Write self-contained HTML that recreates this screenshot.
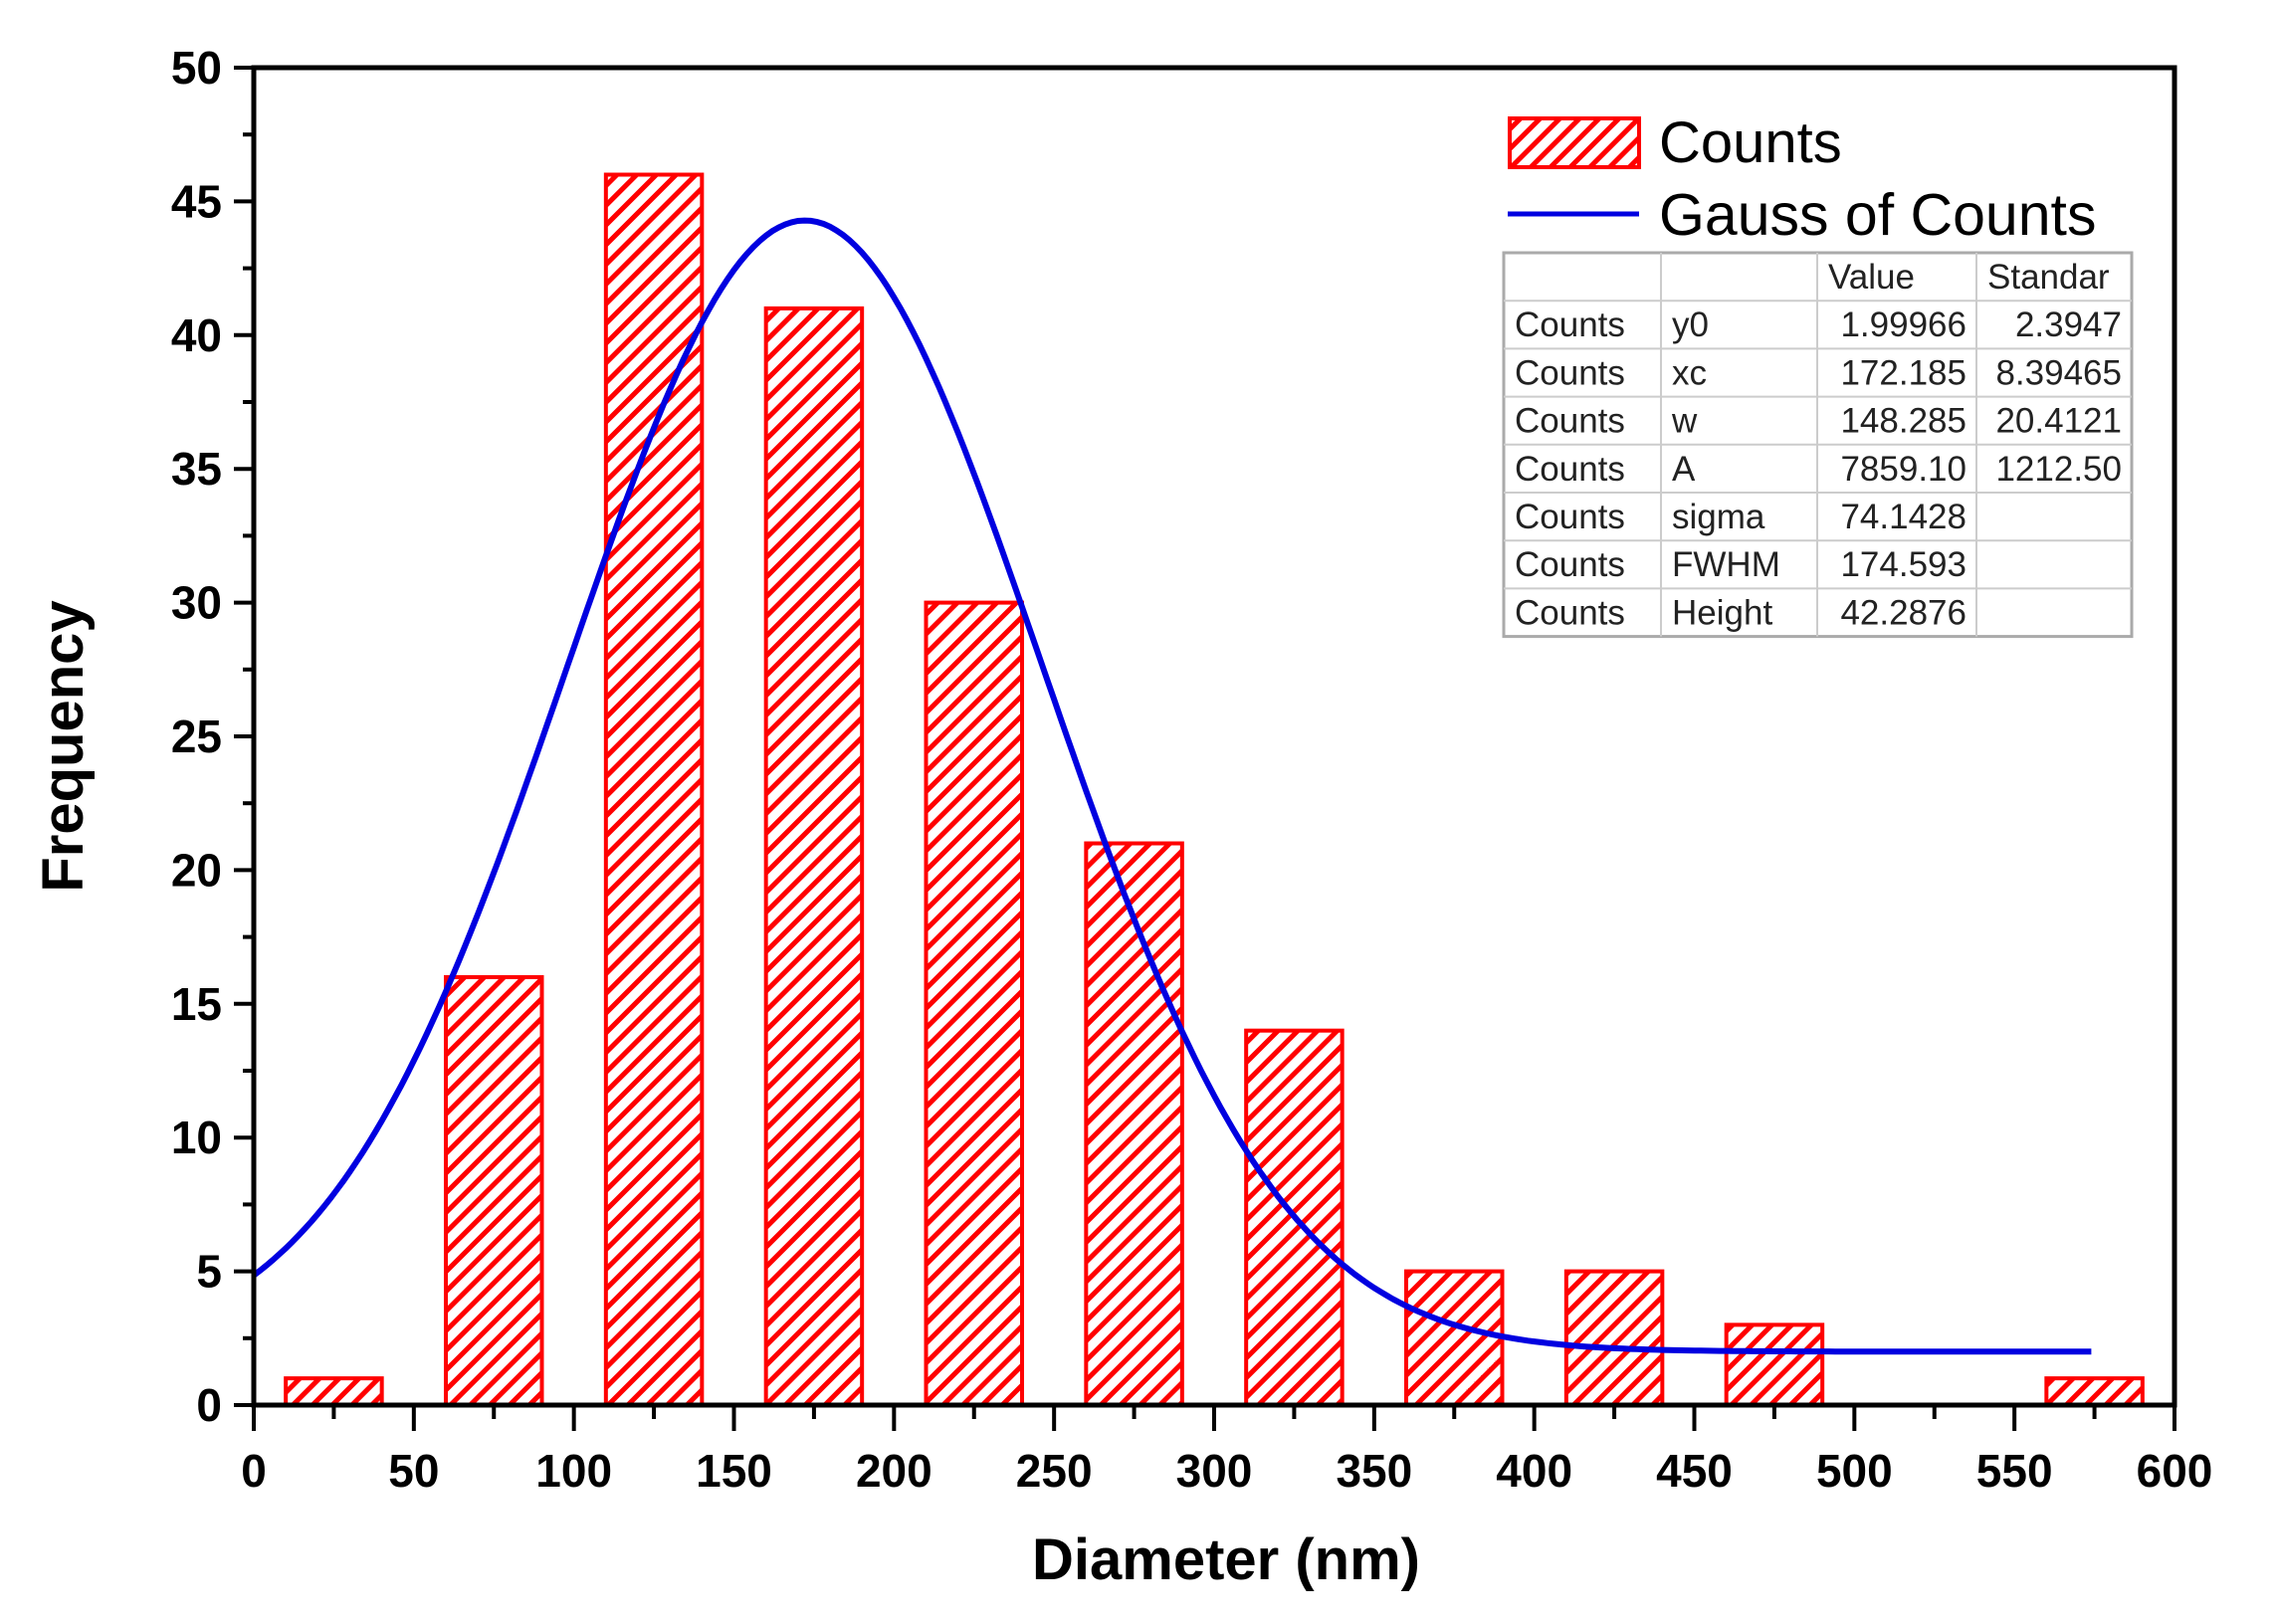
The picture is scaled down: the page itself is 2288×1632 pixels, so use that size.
<!DOCTYPE html>
<html><head><meta charset="utf-8"><style>
html,body{margin:0;padding:0;background:#fff;}
svg{display:block;font-family:"Liberation Sans",Arial,sans-serif;}
</style></head><body>
<svg id="chart" width="2288" height="1632" viewBox="0 0 2288 1632" xmlns="http://www.w3.org/2000/svg">
<defs>
<pattern id="hatch" patternUnits="userSpaceOnUse" width="14" height="14" patternTransform="rotate(45)">
<rect width="14" height="14" fill="#fff"/>
<rect x="0" y="0" width="5" height="14" fill="#f00"/>
</pattern>
</defs>
<g id="bars"></g>
<g id="curve"></g>
<g id="axes"></g>
<text transform="translate(83,750) rotate(-90)" text-anchor="middle" font-size="58" font-weight="bold">Frequency</text>
<text x="1232" y="1587" text-anchor="middle" font-size="58" font-weight="bold">Diameter (nm)</text>
<g>
<rect x="1517" y="119" width="130" height="49" fill="url(#hatch)" stroke="#f00" stroke-width="4"/>
<text x="1667" y="163" font-size="58">Counts</text>
<line x1="1515" y1="215" x2="1647" y2="215" stroke="#0000e0" stroke-width="5"/>
<text x="1667" y="236" font-size="59">Gauss of Counts</text>
</g>
<g id="table"></g>
</svg>
<script>
const categories = [25, 75, 125, 175, 225, 275, 325, 375, 425, 475, 525, 575];
const counts = [1, 16, 46, 41, 30, 21, 14, 5, 5, 3, 0, 1];
const binWidth = 30;
const yTicks = [0, 5, 10, 15, 20, 25, 30, 35, 40, 45, 50];
const xTicks = [0, 50, 100, 150, 200, 250, 300, 350, 400, 450, 500, 550, 600];
const fitParams = [1.99966, 172.185, 148.285, 7859.10]; // y0, xc, w, A
const fitRange = [0, 575];
const tableHeader = ["", "", "Value", "Standar"];
const tableRows = [
 ["Counts","y0","1.99966","2.3947"],
 ["Counts","xc","172.185","8.39465"],
 ["Counts","w","148.285","20.4121"],
 ["Counts","A","7859.10","1212.50"],
 ["Counts","sigma","74.1428",""],
 ["Counts","FWHM","174.593",""],
 ["Counts","Height","42.2876",""]
];

const NS = "http://www.w3.org/2000/svg";
const L = 255, R = 2185, T = 68, B = 1412;
const xMin = 0, xMax = 600, yMin = 0, yMax = 50;
function sx(v){ return L + (v - xMin) / (xMax - xMin) * (R - L); }
function sy(v){ return B - (v - yMin) / (yMax - yMin) * (B - T); }
function mk(tag, attrs, parent){
  const e = document.createElementNS(NS, tag);
  for (const k in attrs) e.setAttribute(k, attrs[k]);
  parent.appendChild(e); return e;
}

const bars = document.getElementById('bars');
categories.forEach((c, i) => {
  if (counts[i] <= 0) return;
  const x0 = sx(c - binWidth/2), x1 = sx(c + binWidth/2);
  const r = mk('rect', {x: x0, y: sy(counts[i]), width: x1 - x0, height: sy(0) - sy(counts[i]), fill: 'url(#hatch)', stroke: '#f00', 'stroke-width': 4}, bars);
  
  
});

const curveG = document.getElementById('curve');
const [y0, xc, w, A] = fitParams;
let d = '';
for (let x = fitRange[0]; x <= fitRange[1]; x += 2) {
  const y = y0 + A / (w * Math.sqrt(Math.PI / 2)) * Math.exp(-2 * (x - xc) * (x - xc) / (w * w));
  d += (d ? 'L' : 'M') + sx(x).toFixed(1) + ',' + sy(y).toFixed(1);
}
const path = mk('path', {d: d, fill: 'none', stroke: '#0000e0', 'stroke-width': 6}, curveG);



const axes = document.getElementById('axes');
const frame = mk('rect', {x: L, y: T, width: R - L, height: B - T, fill: 'none', stroke: '#000', 'stroke-width': 5}, axes);


yTicks.forEach((v, i) => {
  const t = mk('line', {x1: L - 20, x2: L, y1: sy(v), y2: sy(v), stroke: '#000', 'stroke-width': 4}, axes);
  
  
  if (i < yTicks.length - 1) {
    const m = mk('line', {x1: L - 11, x2: L, y1: sy(v + 2.5), y2: sy(v + 2.5), stroke: '#000', 'stroke-width': 4}, axes);
    
    
  }
  const lb = mk('text', {x: L - 32, y: sy(v) + 16, 'text-anchor': 'end', 'font-size': 46, 'font-weight': 'bold'}, axes);
  lb.textContent = v;
  
  
});
xTicks.forEach((v, i) => {
  const t = mk('line', {x1: sx(v), x2: sx(v), y1: B, y2: B + 26, stroke: '#000', 'stroke-width': 4}, axes);
  
  
  if (i < xTicks.length - 1) {
    const m = mk('line', {x1: sx(v + 25), x2: sx(v + 25), y1: B, y2: B + 14, stroke: '#000', 'stroke-width': 4}, axes);
    
    
  }
  const lb = mk('text', {x: sx(v), y: 1494, 'text-anchor': 'middle', 'font-size': 46, 'font-weight': 'bold'}, axes);
  lb.textContent = v;
  
  
});

const tbl = document.getElementById('table');
const cols = [1511, 1669, 1826, 1986, 2142];
const tTop = 254, rowH = 48.2;
const allRows = [tableHeader].concat(tableRows);
const bg = mk('rect', {x: cols[0], y: tTop, width: cols[4] - cols[0], height: rowH * allRows.length, fill: '#fff', stroke: '#aaa', 'stroke-width': 3}, tbl);


for (let r = 1; r < allRows.length; r++) {
  const ln = mk('line', {x1: cols[0], x2: cols[4], y1: tTop + r * rowH, y2: tTop + r * rowH, stroke: '#ccc', 'stroke-width': 2}, tbl);
  
  
}
for (let c = 1; c < 4; c++) {
  const ln = mk('line', {x1: cols[c], x2: cols[c], y1: tTop, y2: tTop + rowH * allRows.length, stroke: '#ccc', 'stroke-width': 2}, tbl);
  
  
}
allRows.forEach((row, r) => {
  row.forEach((cell, c) => {
    if (!cell) return;
    const right = (r > 0 && c >= 2);
    const t = mk('text', {x: right ? cols[c + 1] - 10 : cols[c] + 11, y: tTop + r * rowH + 36, 'text-anchor': right ? 'end' : 'start', 'font-size': 35, fill: '#222'}, tbl);
    t.textContent = cell;
    
    
  });
});
</script>
</body></html>
